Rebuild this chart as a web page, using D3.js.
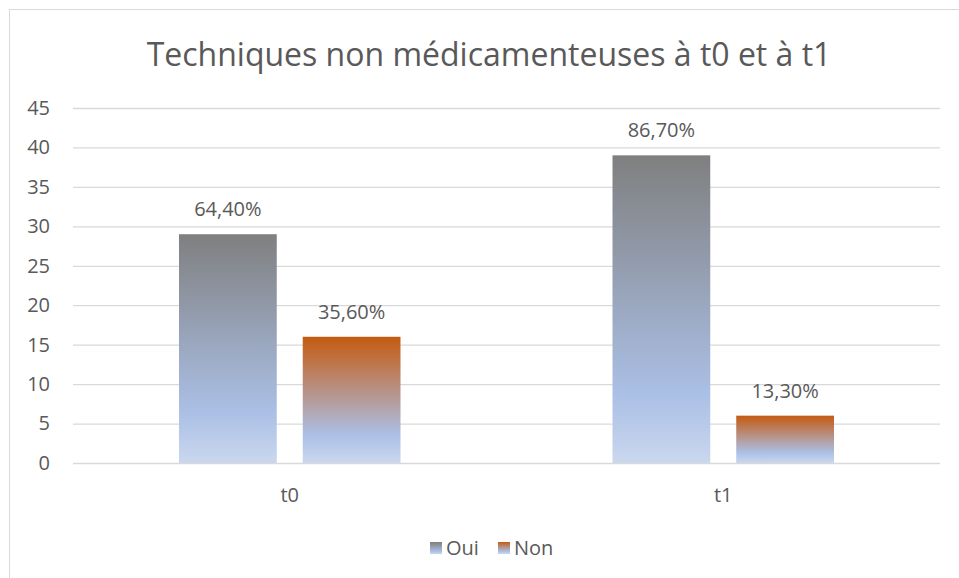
<!DOCTYPE html>
<html>
<head>
<meta charset="utf-8">
<script src="https://cdn.jsdelivr.net/npm/d3@7"></script>
<style>
  body { margin: 0; background: #fff; }
  text { font-family: "Open Sans", sans-serif; fill: #595959; }
</style>
</head>
<body>
<div id="graph_box"></div>
<script>
// data
const categories = ["t0", "t1"];
const seriesNames = ["Oui", "Non"];
const ouiValues = [29, 39];
const nonValues = [16, 6];
const ouiLabels = ["64,40%", "86,70%"];
const nonLabels = ["35,60%", "13,30%"];
const yTicks = [0, 5, 10, 15, 20, 25, 30, 35, 40, 45];

const W = 959, H = 578;
const margin = { top: 108, right: 19, bottom: 115, left: 73 };
const width = W - margin.left - margin.right,
    height = H - margin.top - margin.bottom;

const svg = d3.select("#graph_box")
    .append("svg")
    .attr("width", W)
    .attr("height", H);

// chart frame
svg.append("rect")
    .attr("x", 9.5).attr("y", 9.5)
    .attr("width", W).attr("height", H)
    .attr("fill", "none")
    .attr("stroke", "#d9d9d9");

// gradients (Excel style)
const defs = svg.append("defs");
function grad(id, top) {
    const g = defs.append("linearGradient")
        .attr("id", id)
        .attr("x1", 0).attr("y1", 0).attr("x2", 0).attr("y2", 1);
    g.append("stop").attr("offset", "0%").attr("stop-color", top);
    g.append("stop").attr("offset", "78%").attr("stop-color", "#abc0e6");
    g.append("stop").attr("offset", "100%").attr("stop-color", "#cad7ee");
}
grad("gOui", "#7f7f7f");
grad("gNon", "#c55a11");

const g = svg.append("g")
    .attr("transform", `translate(${margin.left},${margin.top})`);

const x = d3.scaleBand()
    .domain(categories)
    .range([0, width])
    .paddingOuter(0);

const x1 = d3.scaleBand()
    .domain(seriesNames)
    .range([106, x.bandwidth() - 106])
    .paddingInner(0.21);

const y = d3.scaleLinear()
    .domain([0, 45])
    .range([height, 0]);

// grid
g.append("g")
    .attr("class", "grid")
    .call(d3.axisLeft(y).tickValues(yTicks).tickSize(-width).tickFormat(""))
    .call(s => s.select(".domain").remove())
    .selectAll("line")
    .attr("stroke", "#d9d9d9")
    .attr("stroke-width", 1.3);

// y axis labels
g.append("g")
    .attr("class", "y-axis")
    .call(d3.axisLeft(y).tickValues(yTicks).tickSize(0).tickPadding(23))
    .call(s => s.select(".domain").remove())
    .selectAll("text")
    .style("font-size", "20px")
    .attr("fill", "#595959");

// x axis labels
g.append("g")
    .attr("class", "x-axis")
    .attr("transform", `translate(0,${height})`)
    .call(d3.axisBottom(x).tickSize(0).tickPadding(25))
    .call(s => s.select(".domain").remove())
    .selectAll("text")
    .style("font-size", "20px")
    .attr("fill", "#595959");

const rows = categories.map((c, i) => ({
    cat: c,
    vals: [
        { key: "Oui", v: ouiValues[i], lab: ouiLabels[i] },
        { key: "Non", v: nonValues[i], lab: nonLabels[i] }
    ]
}));

const grp = g.selectAll(".cat")
    .data(rows)
    .enter()
    .append("g")
    .attr("transform", d => `translate(${x(d.cat)},0)`);

grp.selectAll("rect")
    .data(d => d.vals)
    .enter()
    .append("rect")
    .attr("x", d => x1(d.key))
    .attr("y", d => y(d.v))
    .attr("width", x1.bandwidth())
    .attr("height", d => height - y(d.v))
    .attr("fill", d => d.key === "Oui" ? "url(#gOui)" : "url(#gNon)");

grp.selectAll(".lab")
    .data(d => d.vals)
    .enter()
    .append("text")
    .attr("class", "lab")
    .attr("x", d => x1(d.key) + x1.bandwidth() / 2)
    .attr("y", d => y(d.v) - 18)
    .attr("text-anchor", "middle")
    .style("font-size", "20px")
    .text(d => d.lab);

// title
svg.append("text")
    .attr("x", 489)
    .attr("y", 66)
    .attr("text-anchor", "middle")
    .style("font-size", "32px")
    .text("Techniques non médicamenteuses à t0 et à t1");

// legend
const legend = svg.append("g").attr("transform", "translate(430,542)");
const lx = [0, 68];
seriesNames.forEach((s, i) => {
    legend.append("rect")
        .attr("x", lx[i]).attr("y", 0)
        .attr("width", 12).attr("height", 12)
        .attr("fill", i === 0 ? "url(#gOui)" : "url(#gNon)");
    legend.append("text")
        .attr("x", lx[i] + 16).attr("y", 13)
        .style("font-size", "20px")
        .text(s);
});
</script>
</body>
</html>
